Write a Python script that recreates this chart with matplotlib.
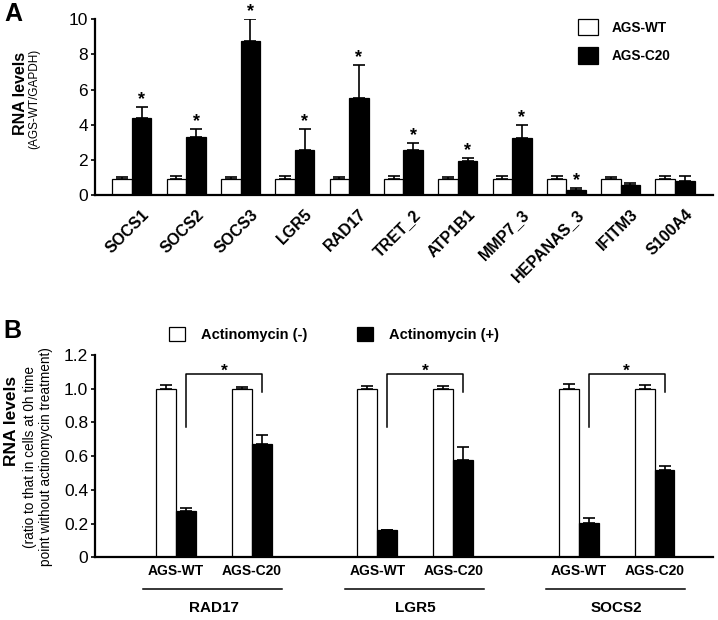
import numpy as np
import matplotlib.pyplot as plt
from matplotlib.transforms import blended_transform_factory, ScaledTranslation

plt.rcParams['font.family'] = ['Liberation Sans', 'DejaVu Sans']

# panel A: RNA levels relative to AGS-WT
genes_a = ['SOCS1', 'SOCS2', 'SOCS3', 'LGR5', 'RAD17', 'TRET_2', 'ATP1B1',
           'MMP7_3', 'HEPANAS_3', 'IFITM3', 'S100A4']
wt_mean = [0.9, 0.9, 0.9, 0.9, 0.9, 0.9, 0.9, 0.9, 0.9, 0.9, 0.9]
wt_err = [0.1, 0.18, 0.1, 0.18, 0.1, 0.18, 0.1, 0.18, 0.18, 0.1, 0.18]
c20_mean = [4.36, 3.3, 8.76, 2.54, 5.5, 2.54, 1.95, 3.24, 0.27, 0.57, 0.80]
c20_err = [0.64, 0.46, 1.24, 1.22, 1.9, 0.4, 0.17, 0.74, 0.11, 0.13, 0.28]
c20_sig = [True, True, True, True, True, True, True, True, True, False, False]
ticks_a = [0, 2, 4, 6, 8, 10]

# panel B: actinomycin chase
genes_b = ['RAD17', 'LGR5', 'SOCS2']
cells_b = ['AGS-WT', 'AGS-C20']
act_minus = [1.0, 1.0, 1.0, 1.0, 1.0, 1.0]
act_minus_err = [0.025, 0.013, 0.017, 0.017, 0.03, 0.023]
act_plus = [0.275, 0.675, 0.16, 0.575, 0.205, 0.515]
act_plus_err = [0.02, 0.05, 0.0, 0.08, 0.03, 0.025]
ticks_b = [0, 0.2, 0.4, 0.6, 0.8, 1.0, 1.2]
tick_labels_b = ['0', '0.2', '0.4', '0.6', '0.8', '1.0', '1.2']

W, H = 718, 620
fig = plt.figure(figsize=(W / 100, H / 100), dpi=100)


def rect(x0, y0, x1, y1):
    # pixel box -> figure fraction
    return [x0 / W, 1 - y1 / H, (x1 - x0) / W, (y1 - y0) / H]


def style_axis(ax):
    for s in ['top', 'right']:
        ax.spines[s].set_visible(False)
    for s in ['left', 'bottom']:
        ax.spines[s].set_linewidth(1.6)
    ax.tick_params(axis='y', length=3, width=1.2, pad=2, labelsize=12.5)
    ax.tick_params(axis='x', length=0)


err_kw = dict(ecolor='black', elinewidth=1.2, capsize=4, capthick=1.2)

# ---------------- panel A ----------------
axA = fig.add_axes(rect(95, 19.3, 713, 195))
style_axis(axA)
x = np.arange(len(genes_a))
bw = 0.36
axA.bar(x - bw / 2, wt_mean, bw, color='white', edgecolor='black', linewidth=0.9,
        yerr=[np.zeros(len(x)), wt_err], error_kw=err_kw, label='AGS-WT')
axA.bar(x + bw / 2, c20_mean, bw, color='black', edgecolor='black', linewidth=0.9,
        yerr=[np.zeros(len(x)), c20_err], error_kw=err_kw, label='AGS-C20')
for i in range(len(x)):
    if c20_sig[i]:
        axA.annotate('*', (x[i] + bw / 2, c20_mean[i] + c20_err[i]), xytext=(0, 2),
                     textcoords='offset points', ha='center', va='baseline',
                     fontsize=13, fontweight='bold')
axA.set_xlim(-0.68, 10.7)
axA.set_ylim(0, 10)
axA.set_yticks(ticks_a)
axA.set_xticks(x)
axA.set_xticklabels([])
# rotated gene names, end of each name sits right of / below its category
lab_tr = blended_transform_factory(axA.transData, axA.transAxes) + \
    ScaledTranslation(0.15, -0.17, fig.dpi_scale_trans)
for i, name in enumerate(genes_a):
    axA.text(x[i], 0, name, transform=lab_tr, rotation=45, rotation_mode='anchor',
             ha='right', va='center', fontsize=11.5, fontweight='bold')
axA.legend(loc='upper left', bbox_to_anchor=(578 / W, 1 - 19 / H),
           bbox_transform=fig.transFigure, frameon=False, borderpad=0,
           borderaxespad=0, handlelength=1.5, handleheight=1.45,
           handletextpad=0.95, labelspacing=0.9,
           prop={'weight': 'bold', 'size': 9.8})

fig.text(21 / W, 1 - 93 / H, 'RNA levels', rotation=90, ha='center', va='center',
         fontsize=11.5, fontweight='bold')
fig.text(34 / W, 1 - 99 / H, '(AGS-WT/GAPDH)', rotation=90, ha='center',
         va='center', fontsize=8.5)
fig.text(13 / W, 1 - 14 / H, 'A', ha='center', va='center', fontsize=18,
         fontweight='bold')

# ---------------- panel B ----------------
axB = fig.add_axes(rect(95, 355, 713, 557.3))
style_axis(axB)
group_gap = 2.65
pos = np.array([g * group_gap + c for g in range(len(genes_b)) for c in range(len(cells_b))])
bwb = 0.263
axB.bar(pos - bwb / 2, act_minus, bwb, color='white', edgecolor='black', linewidth=0.9,
        yerr=[np.zeros(len(pos)), act_minus_err], error_kw=err_kw,
        label='Actinomycin (-)')
axB.bar(pos + bwb / 2, act_plus, bwb, color='black', edgecolor='black', linewidth=0.9,
        yerr=[np.zeros(len(pos)), act_plus_err], error_kw=err_kw,
        label='Actinomycin (+)')
axB.set_xlim(-1.066, 7.07)
axB.set_ylim(0, 1.2)
axB.set_yticks(ticks_b)
axB.set_yticklabels(tick_labels_b)
axB.set_xticks(pos)
axB.set_xticklabels(cells_b * len(genes_b), fontsize=10, fontweight='bold')
axB.tick_params(axis='x', pad=5)

trans = blended_transform_factory(axB.transData, axB.transAxes)
for g, gene in enumerate(genes_b):
    p0, p1 = pos[2 * g], pos[2 * g + 1]
    # significance bracket between the two actinomycin (+) bars
    xl, xr = p0 + bwb / 2, p1 + bwb / 2
    axB.plot([xl, xl, xr, xr], [0.77, 1.085, 1.085, 0.98], color='black', lw=1.1)
    axB.text((xl + xr) / 2, 1.078, '*', ha='center', va='baseline', fontsize=12.5,
             fontweight='bold')
    axB.plot([p0 - 0.43, p1 + 0.4], [-0.157, -0.157], color='black', lw=1.1,
             transform=trans, clip_on=False)
    axB.text((p0 + p1) / 2, -0.25, gene, ha='center', va='center', fontsize=11,
             fontweight='bold', transform=trans)

axB.legend(loc='upper left', bbox_to_anchor=(169 / W, 1 - 327 / H),
           bbox_transform=fig.transFigure, frameon=False, ncol=2, borderpad=0,
           borderaxespad=0, handlelength=1.1, handleheight=1.05,
           handletextpad=1.1, columnspacing=3.4,
           prop={'weight': 'bold', 'size': 10.5})

fig.text(12 / W, 1 - 421 / H, 'RNA levels', rotation=90, ha='center', va='center',
         fontsize=12.5, fontweight='bold')
fig.text(30 / W, 1 - 457 / H, '(ratio to that in cells at 0h time', rotation=90,
         ha='center', va='center', fontsize=9.8)
fig.text(46 / W, 1 - 457 / H, 'point without actinomycin treatment)', rotation=90,
         ha='center', va='center', fontsize=9.8)
fig.text(12 / W, 1 - 331 / H, 'B', ha='center', va='center', fontsize=18,
         fontweight='bold')

fig.savefig('out.png', dpi=100)
